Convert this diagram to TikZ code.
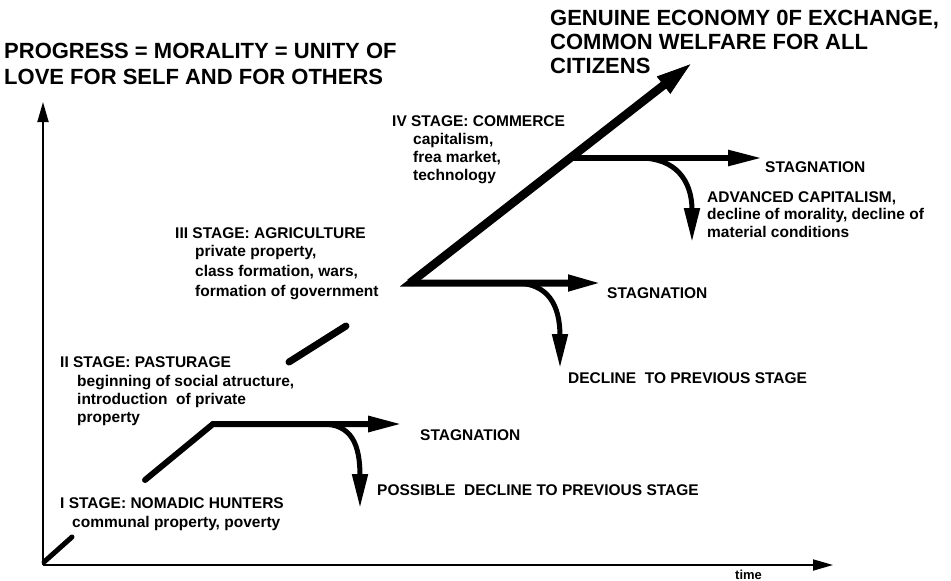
\documentclass[tikz,border=0pt]{standalone}
\usepackage{fontspec}
\setmainfont{Liberation Sans}
\usetikzlibrary{arrows.meta}
\begin{document}
\begin{tikzpicture}[x=1pt,y=-1pt,
  lbl/.style={anchor=base west,inner sep=0pt,font=\fontsize{15.5}{18}\selectfont\bfseries},
  big/.style={anchor=base west,inner sep=0pt,font=\fontsize{22}{26}\selectfont\bfseries},
  small/.style={anchor=base west,inner sep=0pt,font=\fontsize{13}{15}\selectfont\bfseries},
  axis/.style={line width=1.8pt,-{Triangle[length=20pt,width=11pt]}},
  headtip/.style={-{Triangle[length=34pt,width=15pt]}},
  branch/.style={line width=5.5pt,headtip},
  curvearrow/.style={line width=5pt,headtip},
  seg/.style={line width=7pt,line cap=round}
]
\useasboundingbox (0,0) rectangle (951,581);

% axes
\coordinate (O) at (43,565);
\coordinate (Ytip) at (43,102);
\coordinate (Xtip) at (833,565);
\draw[axis] (O) -- (Ytip);
\draw[axis] (O) -- (Xtip);

% small initial stroke
\coordinate (s1) at (44,562);
\coordinate (s2) at (72,537);
\draw[line width=5pt,line cap=round] (s1) -- (s2);

% stage I path
\coordinate (a1) at (145,480);
\coordinate (a2) at (213,424);
\coordinate (a3) at (402,424);
\draw[line width=6pt,line cap=round,line join=miter,headtip] (a1) -- (a2) -- (a3);
\coordinate (b1) at (322,424);
\coordinate (b2) at (360,508);
\draw[curvearrow] (b1) .. controls (352,424) and (360,445) .. (360,476) -- (b2);

% stage II segment
\coordinate (c1) at (289,362);
\coordinate (c2) at (346,326);
\draw[seg] (c1) -- (c2);

% stage III / IV
\coordinate (V) at (410,283);
\coordinate (h3) at (602,283);
\coordinate (Top) at (692,63);
\draw[line width=7pt,line join=miter,{Triangle[length=34pt,width=15pt]}-{Triangle[length=36pt,width=19pt]}] (h3) -- (V) -- (Top);
\draw[line width=8.5pt,-{Triangle[length=36pt,width=19pt]}] (V) -- (Top);
\coordinate (f1) at (515,283);
\coordinate (f2) at (560,368);
\draw[curvearrow] (f1) .. controls (548,283) and (560,305) .. (560,336) -- (f2);

\coordinate (d1) at (570,158);
\coordinate (d2) at (762,158);
\draw[branch] (d1) -- (d2);
\coordinate (e1) at (640,158);
\coordinate (e2) at (692,242);
\draw[curvearrow] (e1) .. controls (675,158) and (692,180) .. (692,210) -- (e2);

% texts
\node[big] (title1) at (4,58) {PROGRESS = MORALITY = UNITY OF};
\node[big] (title2) at (4,84) {LOVE FOR SELF AND FOR OTHERS};
\node[big] (goal1) at (550,25) {GENUINE ECONOMY 0F EXCHANGE,};
\node[big] (goal2) at (550,49) {COMMON WELFARE FOR ALL};
\node[big] (goal3) at (550,73) {CITIZENS};

\node[lbl] (s4) at (392,126.5) {IV STAGE: COMMERCE};
\node[lbl] (s4a) at (413,144) {capitalism,};
\node[lbl] (s4b) at (413,162) {frea market,};
\node[lbl] (s4c) at (413,180) {technology};
\node[lbl] (stag4) at (765,172.5) {STAGNATION};
\node[lbl] (adv1) at (707,202.5) {ADVANCED CAPITALISM,};
\node[lbl] (adv2) at (707,219) {decline of morality, decline of};
\node[lbl] (adv3) at (707,237) {material conditions};

\node[lbl] (s3) at (175,238.5) {III STAGE: AGRICULTURE};
\node[lbl] (s3a) at (195,256) {private property,};
\node[lbl] (s3b) at (195,276) {class formation, wars,};
\node[lbl] (s3c) at (195,296) {formation of government};
\node[lbl] (stag3) at (607,298.5) {STAGNATION};
\node[lbl] (dec3) at (568,383.5) {DECLINE\ \ TO PREVIOUS STAGE};

\node[lbl] (s2) at (60,367.5) {II STAGE: PASTURAGE};
\node[lbl] (s2a) at (77,386) {beginning of social atructure,};
\node[lbl] (s2b) at (77,404) {introduction\ \ of private};
\node[lbl] (s2c) at (77,422) {property};
\node[lbl] (stag1) at (420,440.5) {STAGNATION};
\node[lbl] (dec1) at (377,495.5) {POSSIBLE\ \ DECLINE TO PREVIOUS STAGE};

\node[lbl] (s1) at (60,508.5) {I STAGE: NOMADIC HUNTERS};
\node[lbl] (s1a) at (72,527) {communal property, poverty};

\node[small] (time) at (735,579) {time};
\end{tikzpicture}
\end{document}
